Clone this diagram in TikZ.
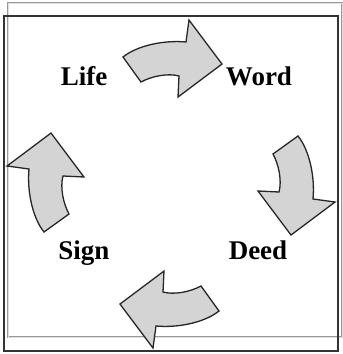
\documentclass[tikz,border=0pt]{standalone}
\usepackage{fontspec}
\setmainfont{Liberation Serif}
\usetikzlibrary{positioning}

\begin{document}
\begin{tikzpicture}[
    x=1pt, y=1pt,
    % Styles
    stage/.style={
        font=\fontsize{27}{30}\selectfont\bfseries, anchor=base,
        inner sep=0pt
    },
    bentarrow/.style={
        draw=black!85, line width=1.3pt, line join=miter, fill=black!17
    },
    outerframe/.style={draw=black!80, line width=1.4pt},
    backframe/.style={draw=black!40, line width=0.7pt, double=black!12,
        double distance=0.7pt},
    pics/cyclearrow/.style={
        code={
            \path[bentarrow] (-48,127)
                .. controls (-33,139) and (-6,144) .. (15,142)
                -- (18,164) -- (51,120) -- (7,87) -- (8,108)
                .. controls (-3,111) and (-19,108) .. (-30,102)
                -- cycle;
        }
    }
]

\useasboundingbox (-171,-170) rectangle (172,184);

% ============================================================
% Frames
% ============================================================
\draw[backframe] (-163,-153) rectangle (171,181);
\draw[outerframe] (-167,-167) rectangle (167,168);

% ============================================================
% Stages
% ============================================================
\coordinate (hub) at (0,0);

\node[stage] (life) at (-87,99) {Life};
\node[stage] (word) at (88,99) {Word};
\node[stage] (deed) at (87,-75) {Deed};
\node[stage] (sign) at (-87,-75) {Sign};

% ============================================================
% Arrows round the cycle
% ============================================================
\pic[rotate=0]   (lifeword) at (hub) {cyclearrow};
\pic[rotate=-90] (worddeed) at (hub) {cyclearrow};
\pic[rotate=180] (deedsign) at (hub) {cyclearrow};
\pic[rotate=90]  (signlife) at (hub) {cyclearrow};

\end{tikzpicture}
\end{document}
